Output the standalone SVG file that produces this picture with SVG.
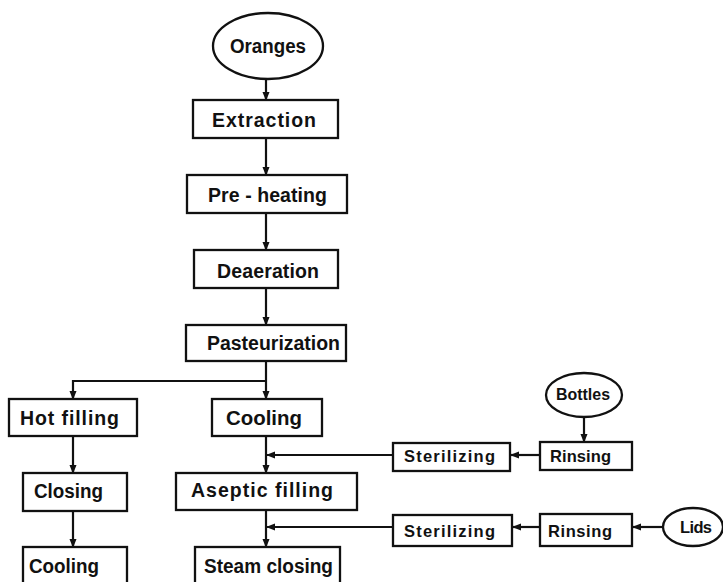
<svg xmlns="http://www.w3.org/2000/svg" width="723" height="582" viewBox="0 0 723 582">
<defs>
<style>
.b{fill:#fff;stroke:#111;stroke-width:2.3}
.t{font-family:"Liberation Sans",Arial,sans-serif;font-weight:bold;font-size:19.5px;fill:#111;text-anchor:start}
.s{font-size:16.5px}
.c{fill:none;stroke:#111;stroke-width:2.2}
</style>
<marker id="a" markerWidth="9" markerHeight="8" refX="8" refY="4" orient="auto" markerUnits="userSpaceOnUse">
<path d="M0,0.5 L9,4 L0,7.5 Z" fill="#111"/>
</marker>
</defs>
<rect width="723" height="582" fill="#fff"/>
<g id="connectors">
<path class="c" d="M266,79 V100" marker-end="url(#a)"/>
<path class="c" d="M266,138 V175" marker-end="url(#a)"/>
<path class="c" d="M266,213 V250" marker-end="url(#a)"/>
<path class="c" d="M266,288 V325" marker-end="url(#a)"/>
<path class="c" d="M266,361 V399" marker-end="url(#a)"/>
<path class="c" d="M266,381 H73 V399" marker-end="url(#a)"/>
<path class="c" d="M73,436 V473" marker-end="url(#a)"/>
<path class="c" d="M73,511 V547" marker-end="url(#a)"/>
<path class="c" d="M266,436 V473" marker-end="url(#a)"/>
<path class="c" d="M266,510 V547" marker-end="url(#a)"/>
<path class="c" d="M393,455 H267" marker-end="url(#a)"/>
<path class="c" d="M393,527 H267" marker-end="url(#a)"/>
<path class="c" d="M584,417 V442" marker-end="url(#a)"/>
<path class="c" d="M540,455 H511" marker-end="url(#a)"/>
<path class="c" d="M540,527 H513" marker-end="url(#a)"/>
<path class="c" d="M663,527 H633" marker-end="url(#a)"/>
</g>
<g id="oranges"><ellipse class="b" cx="268" cy="46" rx="55" ry="33"/><text class="t" x="230" y="53" textLength="76" lengthAdjust="spacingAndGlyphs">Oranges</text></g>
<g id="extraction"><rect class="b" x="193" y="100" width="145" height="38"/><text class="t" x="212" y="127" textLength="104" lengthAdjust="spacing">Extraction</text></g>
<g id="preheating"><rect class="b" x="187" y="175" width="160" height="38"/><text class="t" x="208" y="202" textLength="119" lengthAdjust="spacing">Pre - heating</text></g>
<g id="deaeration"><rect class="b" x="194" y="250" width="144" height="38"/><text class="t" x="217" y="278" textLength="102" lengthAdjust="spacing">Deaeration</text></g>
<g id="pasteurization"><rect class="b" x="186" y="325" width="160" height="36"/><text class="t" x="207" y="350" textLength="133" lengthAdjust="spacingAndGlyphs">Pasteurization</text></g>
<g id="hotfilling"><rect class="b" x="9" y="399" width="128" height="37"/><text class="t" x="20" y="425" textLength="99" lengthAdjust="spacing">Hot filling</text></g>
<g id="cooling1"><rect class="b" x="212" y="399" width="110" height="37"/><text class="t" x="226" y="425" textLength="76" lengthAdjust="spacingAndGlyphs">Cooling</text></g>
<g id="closing"><rect class="b" x="23" y="473" width="104" height="38"/><text class="t" x="34" y="498" textLength="69" lengthAdjust="spacingAndGlyphs">Closing</text></g>
<g id="aseptic"><rect class="b" x="176" y="473" width="181" height="37"/><text class="t" x="191" y="497" textLength="142" lengthAdjust="spacing">Aseptic filling</text></g>
<g id="cooling2"><rect class="b" x="23" y="547" width="104" height="45"/><text class="t" x="29" y="573" textLength="70" lengthAdjust="spacingAndGlyphs">Cooling</text></g>
<g id="steamclosing"><rect class="b" x="195" y="547" width="145" height="45"/><text class="t" x="204" y="573" textLength="129" lengthAdjust="spacingAndGlyphs">Steam closing</text></g>
<g id="bottles"><ellipse class="b" cx="584" cy="395" rx="38" ry="22"/><text class="t s" x="556" y="400" textLength="54" lengthAdjust="spacingAndGlyphs">Bottles</text></g>
<g id="rinsing1"><rect class="b" x="540" y="442" width="92" height="28"/><text class="t s" x="550" y="462" textLength="61" lengthAdjust="spacing">Rinsing</text></g>
<g id="sterilizing1"><rect class="b" x="393" y="443" width="117" height="28"/><text class="t s" x="404" y="462" textLength="91" lengthAdjust="spacing">Sterilizing</text></g>
<g id="sterilizing2"><rect class="b" x="393" y="515" width="119" height="31"/><text class="t s" x="404" y="537" textLength="91" lengthAdjust="spacing">Sterilizing</text></g>
<g id="rinsing2"><rect class="b" x="540" y="514" width="92" height="32"/><text class="t s" x="548" y="537" textLength="64" lengthAdjust="spacing">Rinsing</text></g>
<g id="lids"><ellipse class="b" cx="693" cy="527" rx="30" ry="19"/><text class="t s" x="680" y="533" textLength="32" lengthAdjust="spacing">Lids</text></g>
</svg>
